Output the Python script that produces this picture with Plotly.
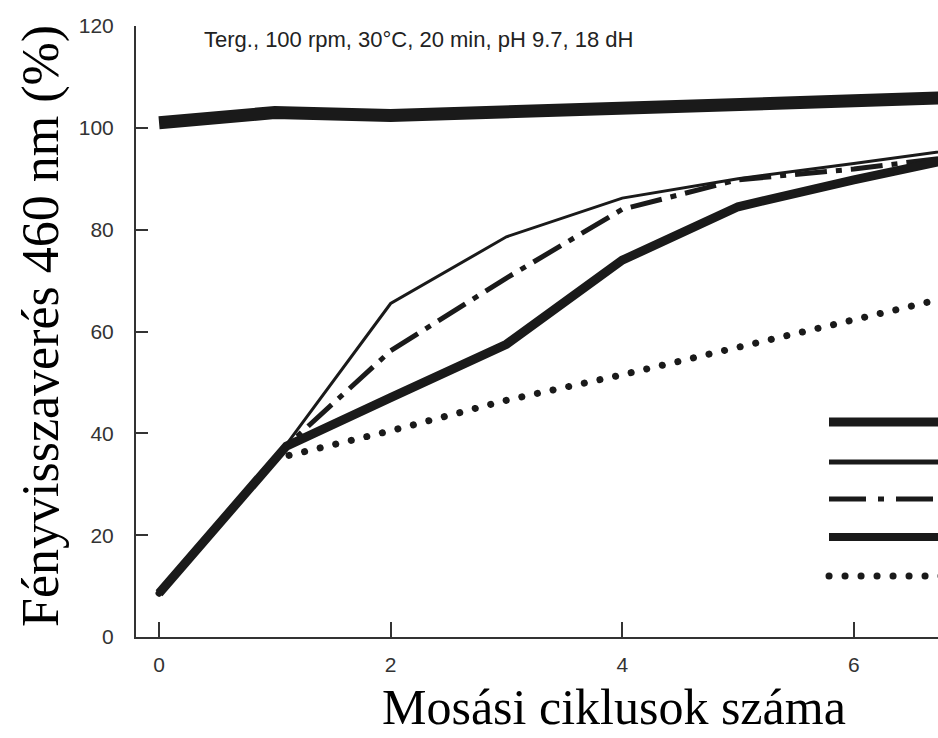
import plotly.graph_objects as go

# ---- data ----
x_top = [0, 1, 2, 3, 4, 5, 6, 7]
y_top = [101.0, 103.0, 102.4, 103.0, 103.6, 104.4, 105.3, 106.1]

x_thin = [0, 1.08, 2, 3, 4, 5, 6, 7]
y_thin = [8.6, 37.2, 65.5, 78.6, 86.2, 90.0, 93.0, 96.1]

x_dashdot = [0, 1.1, 2, 3, 4, 5, 6, 7]
y_dashdot = [8.6, 37.5, 56.2, 70.5, 84.0, 89.8, 91.9, 94.7]

x_medium = [0, 1.1, 2, 3, 4, 5, 6, 7]
y_medium = [8.6, 37.5, 47.0, 57.5, 74.0, 84.5, 89.8, 94.6]

x_dotted = [0, 1, 2, 3, 4, 5, 6, 7]
y_dotted = [8.6, 35.0, 40.5, 46.5, 51.5, 57.0, 62.4, 67.7]

x_ticks = [0, 2, 4, 6]
y_ticks = [0, 20, 40, 60, 80, 100, 120]

title_text = "Terg., 100 rpm, 30\u00b0C, 20 min, pH 9.7, 18 dH"
x_title = "Mosási ciklusok száma"
y_title = "Fényvisszaverés 460 nm (%)"

INK = "#1a1a1a"
AX = "#333333"

fig = go.Figure()
series = [
    (x_top, y_top, 13, "solid"),
    (x_thin, y_thin, 3, "solid"),
    (x_dashdot, y_dashdot, 5, "32px,9px,6px,9px"),
    (x_medium, y_medium, 9, "solid"),
    (x_dotted, y_dotted, 7, "7px,9px"),
]
for xs, ys, w, d in series:
    fig.add_trace(go.Scatter(x=xs, y=ys, mode="lines",
                             line=dict(color=INK, width=w, dash=d),
                             showlegend=False, hoverinfo="skip"))

# legend swatches (labels are cut off in the reference)
L_PLOT, T_PLOT, W_PLOT, H_PLOT = 136, 26, 802, 611
def py(p):
    return (T_PLOT + H_PLOT - p) / H_PLOT
def px(p):
    return (p - L_PLOT) / W_PLOT
legend = [(422, 9, "solid"), (462, 5, "solid"), (499, 5, "37px,12px,6px,12px"),
          (537, 8, "solid"), (576, 7, "7px,9px")]
for yp, w, d in legend:
    fig.add_shape(type="line", xref="paper", yref="paper",
                  x0=px(829), x1=px(950), y0=py(yp), y1=py(yp),
                  line=dict(color=INK, width=w, dash=d))

fig.add_annotation(text=title_text, xref="paper", yref="paper",
                   x=px(202), y=py(39), xanchor="left", yanchor="middle",
                   showarrow=False,
                   font=dict(family="Liberation Sans, Arial", size=22, color="#222"))
fig.add_annotation(text=y_title, xref="paper", yref="paper",
                   x=px(41), y=py(326), xanchor="center", yanchor="middle",
                   textangle=-90, showarrow=False,
                   font=dict(family="Liberation Serif, Times New Roman", size=52, color="black"))
fig.add_annotation(text=x_title, xref="paper", yref="paper",
                   x=px(614), y=py(707), xanchor="center", yanchor="middle",
                   showarrow=False,
                   font=dict(family="Liberation Serif, Times New Roman", size=50, color="black"))

fig.update_layout(
    width=938, height=738,
    margin=dict(l=L_PLOT, r=0, t=T_PLOT, b=738 - T_PLOT - H_PLOT, autoexpand=False),
    paper_bgcolor="white", plot_bgcolor="white",
    showlegend=False,
)
fig.update_xaxes(range=[-0.199, 6.727], tickvals=x_ticks, ticks="inside", ticklen=15,
                 tickwidth=2, tickcolor=AX, showline=True, linecolor=AX, linewidth=2,
                 showgrid=False, zeroline=False, ticklabelstandoff=8,
                 tickfont=dict(family="Liberation Sans, Arial", size=21, color=AX))
fig.update_yaxes(range=[0, 120], tickvals=y_ticks, ticks="inside", ticklen=12,
                 tickwidth=2, tickcolor=AX, showline=True, linecolor=AX, linewidth=2,
                 showgrid=False, zeroline=False, ticklabelstandoff=16,
                 tickfont=dict(family="Liberation Sans, Arial", size=21, color=AX))

round_dots = """
document.querySelectorAll('path').forEach(function(p){
  var d = p.style.strokeDasharray || '';
  if (d.replace(/\\s/g,'').indexOf('7px,9px') === 0) {
    p.style.strokeLinecap = 'round';
    p.style.strokeDasharray = '0.1px, 15.9px';
  }
});
"""
fig.write_html("out.html", post_script=round_dots)
